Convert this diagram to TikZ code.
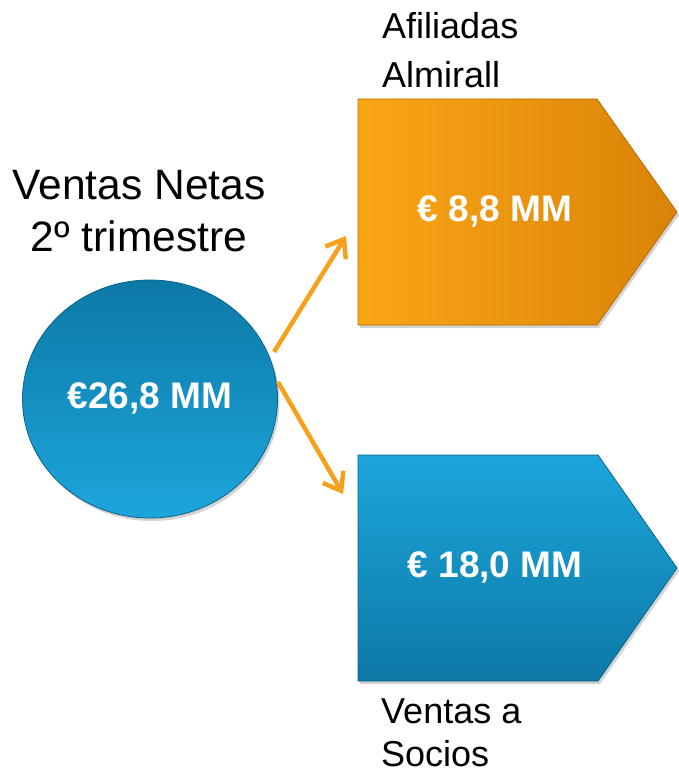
\documentclass[tikz,border=0pt]{standalone}
\usepackage{fontspec}
\setmainfont{Liberation Sans}
\usetikzlibrary{arrows.meta,shapes.geometric,shadows}
\definecolor{orgA}{HTML}{FBA617}
\definecolor{orgB}{HTML}{D98307}
\definecolor{orgE}{HTML}{B86E06}
\definecolor{bluA}{HTML}{1DA6DC}
\definecolor{bluB}{HTML}{0C79A6}
\definecolor{bluE}{HTML}{0A6389}
\definecolor{arr}{HTML}{F6A11C}
\begin{document}
\begin{tikzpicture}[x=1pt,y=-1pt,
  val/.style={font=\bfseries\fontsize{37}{40}\selectfont, text=white, inner sep=0pt},
  lbl/.style={font=\fontsize{36}{49}\selectfont, align=left, inner sep=0pt, anchor=north west},
  conn/.style={draw=arr, line width=4.5pt, -{Straight Barb[length=16pt,width=24pt]}},
  shd/.style={drop shadow={shadow xshift=2pt, shadow yshift=-3pt, opacity=0.35}}
]
\useasboundingbox (0,0) rectangle (679,773);

% circle
\node[ellipse, minimum width=255pt, minimum height=238pt, inner sep=0pt,
      top color=bluB, bottom color=bluA, draw=bluE, line width=0.8pt, shd] (c) at (150,399) {};
\node[val] (ct) at (150,398) {€26,8 MM};

% orange pentagon
\path[left color=orgA, right color=orgB, draw=orgE, line width=0.8pt, shd]
  (358,99) -- (597,99) -- (677,212) -- (597,325) -- (358,325) -- cycle;
\node[val] (o) at (495,211) {€ 8,8 MM};

% blue pentagon
\path[top color=bluA, bottom color=bluB, draw=bluE, line width=0.8pt, shd]
  (358,455) -- (598,455) -- (677,568) -- (598,681) -- (358,681) -- cycle;
\node[val] (b) at (495,567) {€ 18,0 MM};

% labels
\node[font=\fontsize{42.5}{52}\selectfont, align=center, inner sep=0pt, anchor=north] (t) at (139,170) {Ventas Netas\\2º trimestre};
\node[lbl] (la) at (382,12) {Afiliadas\\Almirall};
\node[lbl, font=\fontsize{36}{43}\selectfont] (lb) at (381,699) {Ventas a\\Socios};

% connectors
\coordinate (a1s) at (274,352);
\coordinate (a1e) at (346,236);
\coordinate (a2s) at (278,382);
\coordinate (a2e) at (343,494);
\draw[conn] (a1s) -- (a1e);
\draw[conn] (a2s) -- (a2e);
\end{tikzpicture}
\end{document}
